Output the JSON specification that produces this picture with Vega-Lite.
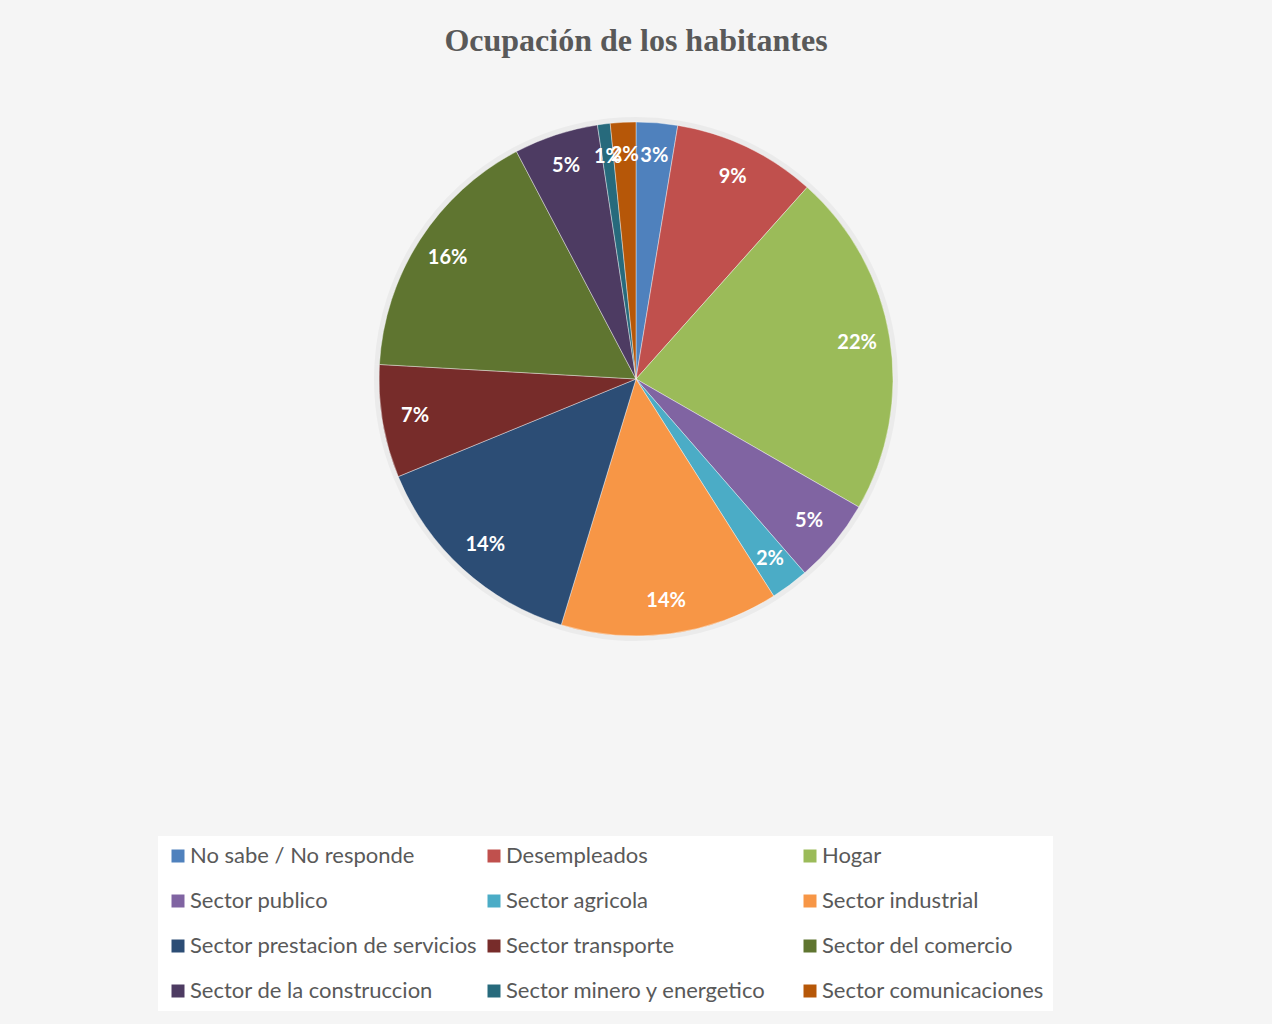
{
  "$schema": "https://vega.github.io/schema/vega-lite/v6.json",
  "width": 1272,
  "height": 598,
  "autosize": {"type": "none"},
  "padding": {"left": 0, "top": 80, "right": 0, "bottom": 346},
  "background": "#f5f5f5",
  "title": {
    "text": "Ocupación de los habitantes",
    "font": "Liberation Serif",
    "fontSize": 32,
    "fontWeight": "bold",
    "color": "#595959",
    "anchor": "middle",
    "frame": "group",
    "offset": 22
  },
  "config": {"view": {"stroke": null}},
  "data": {
    "values": [
      {"orden": 1, "ocupacion": "No sabe / No responde", "valor": 0.026},
      {"orden": 2, "ocupacion": "Desempleados", "valor": 0.090},
      {"orden": 3, "ocupacion": "Hogar", "valor": 0.217},
      {"orden": 4, "ocupacion": "Sector publico", "valor": 0.053},
      {"orden": 5, "ocupacion": "Sector agricola", "valor": 0.024},
      {"orden": 6, "ocupacion": "Sector industrial", "valor": 0.137},
      {"orden": 7, "ocupacion": "Sector prestacion de servicios", "valor": 0.141},
      {"orden": 8, "ocupacion": "Sector transporte", "valor": 0.071},
      {"orden": 9, "ocupacion": "Sector del comercio", "valor": 0.164},
      {"orden": 10, "ocupacion": "Sector de la construccion", "valor": 0.053},
      {"orden": 11, "ocupacion": "Sector minero y energetico", "valor": 0.008},
      {"orden": 12, "ocupacion": "Sector comunicaciones", "valor": 0.016}
    ]
  },
  "encoding": {
    "theta": {"field": "valor", "type": "quantitative", "stack": true},
    "order": {"field": "orden", "type": "quantitative", "sort": "ascending"}
  },
  "layer": [
    {
      "mark": {"type": "arc", "outerRadius": 262, "fill": "#000000", "fillOpacity": 0.04, "strokeWidth": 0},
      "encoding": {"detail": {"field": "ocupacion", "type": "nominal"}}
    },
    {
      "mark": {"type": "arc", "outerRadius": 257, "stroke": "#ffffff", "strokeWidth": 0.4},
      "encoding": {
        "color": {
          "field": "ocupacion",
          "type": "nominal",
          "sort": {"field": "orden"},
          "scale": {
            "domain": ["No sabe / No responde", "Desempleados", "Hogar", "Sector publico", "Sector agricola", "Sector industrial", "Sector prestacion de servicios", "Sector transporte", "Sector del comercio", "Sector de la construccion", "Sector minero y energetico", "Sector comunicaciones"],
            "range": ["#4F81BD", "#C0504D", "#9BBB59", "#8064A2", "#4BACC6", "#F79646", "#2C4D75", "#772C2A", "#5F7530", "#4D3B62", "#276A7C", "#B65708"]
          },
          "legend": {
            "title": null,
            "orient": "none",
            "direction": "horizontal",
            "legendX": 158,
            "legendY": 756,
            "columns": 3,
            "gridAlign": "all",
            "columnPadding": 5,
            "rowPadding": 23,
            "padding": 9,
            "fillColor": "#ffffff",
            "symbolType": "square",
            "symbolSize": 169,
            "symbolStrokeWidth": 0,
            "labelOffset": 1,
            "labelFont": "Lato",
            "labelFontSize": 22,
            "labelColor": "#595959",
            "labelLimit": 400
          }
        }
      }
    },
    {
      "mark": {"type": "text", "radius": 224, "font": "Lato", "fontSize": 20, "fontWeight": "bold", "fill": "#ffffff"},
      "encoding": {
        "detail": {"field": "ocupacion", "type": "nominal"},
        "text": {"field": "valor", "type": "quantitative", "format": ".0%"}
      }
    }
  ]
}
